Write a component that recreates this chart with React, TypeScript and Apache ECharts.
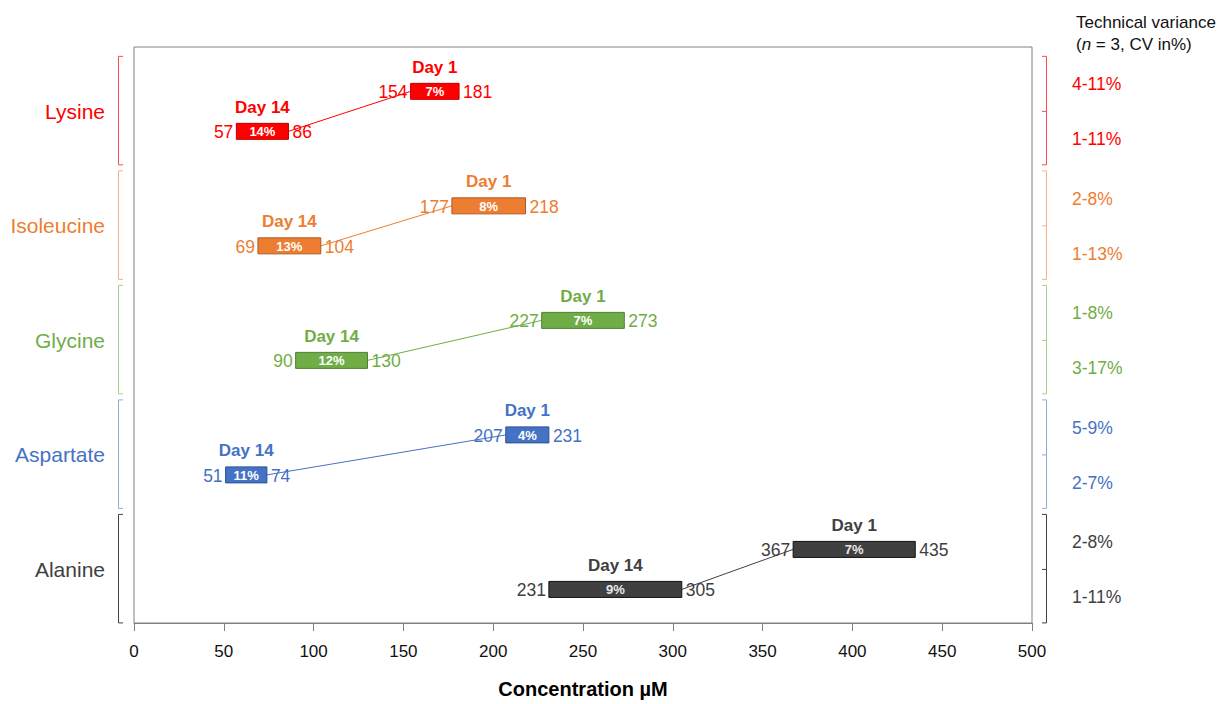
import React, { useEffect, useRef } from "react";
import * as echarts from "echarts";

const aminoAcids = ["Lysine", "Isoleucine", "Glycine", "Aspartate", "Alanine"];
const day1Min = [154, 177, 227, 207, 367];
const day1Max = [181, 218, 273, 231, 435];
const day1CV = ["7%", "8%", "7%", "4%", "7%"];
const day14Min = [57, 69, 90, 51, 231];
const day14Max = [86, 104, 130, 74, 305];
const day14CV = ["14%", "13%", "12%", "11%", "9%"];
const techVarDay1 = ["4-11%", "2-8%", "1-8%", "5-9%", "2-8%"];
const techVarDay14 = ["1-11%", "1-13%", "3-17%", "2-7%", "1-11%"];
const xTicks = [0, 50, 100, 150, 200, 250, 300, 350, 400, 450, 500];

const textColors = ["#FF0000", "#ED7D31", "#70AD47", "#4472C4", "#404040"];
const barBorders = ["#C00000", "#AE5A21", "#507E32", "#2F528F", "#111111"];
const bracketColors = ["#FF4B4B", "#F4B183", "#A9D18E", "#8FAADC", "#404040"];
const barLabelColors = ["#FFFFFF", "#FFFFFF", "#FFFFFF", "#FFFFFF", "#E8E8E8"];

const FONT = "'Liberation Sans', Arial, sans-serif";

export default function App() {
  const ref = useRef<HTMLDivElement>(null);

  useEffect(() => {
    if (!ref.current) return;
    const chart = echarts.init(ref.current, undefined, { renderer: "svg" });

    const data = aminoAcids.map((_, i) => [
      i,
      4.5 - i,
      day1Min[i],
      day1Max[i],
      day14Min[i],
      day14Max[i],
    ]);

    const renderItem = (params: any, api: any) => {
      const i = api.value(0);
      const yc = api.value(1);
      const cs = params.coordSys;
      const center = api.coord([0, yc]);
      const cy = center[1];
      const y1 = cy - 20;
      const y14 = cy + 20;
      const a1 = api.coord([api.value(2), yc])[0];
      const b1 = api.coord([api.value(3), yc])[0];
      const a14 = api.coord([api.value(4), yc])[0];
      const b14 = api.coord([api.value(5), yc])[0];
      const col = textColors[i];
      const barH = 16;
      const children: any[] = [];

      children.push({
        type: "line",
        shape: { x1: b14, y1: y14, x2: a1, y2: y1 },
        style: { stroke: col, lineWidth: 1 },
        z2: 1,
      });

      const bar = (a: number, b: number, y: number, cv: string, lo: number, hi: number, day: string) => {
        children.push({
          type: "rect",
          shape: { x: a, y: y - barH / 2, width: b - a, height: barH },
          style: { fill: col, stroke: barBorders[i], lineWidth: 1 },
          z2: 2,
        });
        children.push({
          type: "text",
          style: {
            text: cv, x: (a + b) / 2, y: y + 0.5, fill: barLabelColors[i],
            fontSize: 13, fontWeight: "bold", fontFamily: FONT,
            align: "center", verticalAlign: "middle",
          },
          z2: 3,
        });
        children.push({
          type: "text",
          style: {
            text: String(lo), x: a - 3, y: y + 1, fill: col,
            fontSize: 17.5, fontFamily: FONT, align: "right", verticalAlign: "middle",
          },
          z2: 3,
        });
        children.push({
          type: "text",
          style: {
            text: String(hi), x: b + 4, y: y + 1, fill: col,
            fontSize: 17.5, fontFamily: FONT, align: "left", verticalAlign: "middle",
          },
          z2: 3,
        });
        children.push({
          type: "text",
          style: {
            text: day, x: (a + b) / 2, y: y - 24, fill: col,
            fontSize: 17, fontWeight: "bold", fontFamily: FONT,
            align: "center", verticalAlign: "middle",
          },
          z2: 3,
        });
      };
      bar(a1, b1, y1, day1CV[i], day1Min[i], day1Max[i], "Day 1");
      bar(a14, b14, y14, day14CV[i], day14Min[i], day14Max[i], "Day 14");

      const top = cy - 55;
      const bot = cy + 53.5;
      const lx = cs.x - 15.5;
      children.push({
        type: "polyline",
        shape: { points: [[lx + 4.5, top], [lx, top], [lx, bot], [lx + 4.5, bot]] },
        style: { stroke: bracketColors[i], lineWidth: 1, fill: null },
      });
      const rx = cs.x + cs.width + 14.5;
      children.push({
        type: "polyline",
        shape: { points: [[rx - 4.5, top], [rx, top], [rx, bot], [rx - 4.5, bot]] },
        style: { stroke: bracketColors[i], lineWidth: 1, fill: null },
      });
      children.push({
        type: "line",
        shape: { x1: rx - 4.5, y1: cy, x2: rx, y2: cy },
        style: { stroke: bracketColors[i], lineWidth: 1 },
      });

      children.push({
        type: "text",
        style: {
          text: aminoAcids[i], x: cs.x - 29, y: cy, fill: col,
          fontSize: 21, fontFamily: FONT, align: "right", verticalAlign: "middle",
        },
      });
      children.push({
        type: "text",
        style: {
          text: techVarDay1[i], x: cs.x + cs.width + 40, y: cy - 27, fill: col,
          fontSize: 17.5, fontFamily: FONT, align: "left", verticalAlign: "middle",
        },
      });
      children.push({
        type: "text",
        style: {
          text: techVarDay14[i], x: cs.x + cs.width + 40, y: cy + 28, fill: col,
          fontSize: 17.5, fontFamily: FONT, align: "left", verticalAlign: "middle",
        },
      });

      return { type: "group", children };
    };

    chart.setOption({
      animation: false,
      backgroundColor: "#ffffff",
      textStyle: { fontFamily: FONT },
      title: {
        left: 1071,
        top: 6,
        text: "{a|Technical variance}\n{a|(}{i|n}{a| = 3, CV in%)}",
        textStyle: {
          fontWeight: "normal",
          rich: {
            a: { fontSize: 17, fontWeight: "normal", fontFamily: FONT, color: "#111111", lineHeight: 22 },
            i: { fontSize: 17, fontWeight: "normal", fontFamily: FONT, fontStyle: "italic", color: "#111111", lineHeight: 22 },
          },
        },
      },
      grid: {
        left: 134,
        right: 197,
        top: 47,
        bottom: 76,
        show: true,
        borderColor: "#808080",
        borderWidth: 1,
        backgroundColor: "transparent",
      },
      xAxis: {
        type: "value",
        min: xTicks[0],
        max: xTicks[xTicks.length - 1],
        interval: 50,
        name: "Concentration µM",
        nameLocation: "middle",
        nameGap: 56,
        nameTextStyle: { fontSize: 20, fontWeight: "bold", color: "#000000", fontFamily: FONT },
        axisLine: { show: true, lineStyle: { color: "#808080", width: 1 } },
        axisTick: { show: true, length: 8, lineStyle: { color: "#808080" } },
        axisLabel: { fontSize: 17, color: "#111111", margin: 20, fontFamily: FONT },
        splitLine: { show: false },
      },
      yAxis: {
        type: "value",
        min: 0.032,
        max: 5.062,
        show: false,
        splitLine: { show: false },
      },
      series: [
        {
          type: "custom",
          renderItem,
          clip: false,
          data,
          encode: { x: [2, 3, 4, 5], y: 1 },
        },
      ],
    });

    return () => chart.dispose();
  }, []);

  return (
    <div
      ref={ref}
      style={{ position: "absolute", left: 0, top: 0, width: 1229, height: 704 }}
    />
  );
}
